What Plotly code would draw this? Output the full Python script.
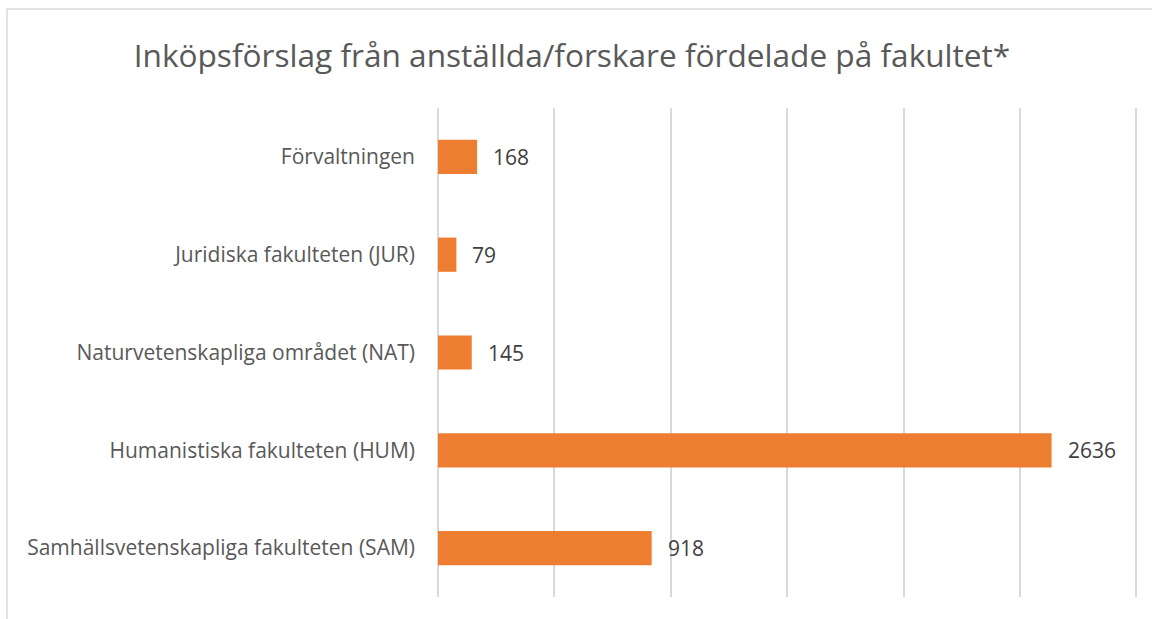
import plotly.graph_objects as go

# data, top to bottom as in the chart
categories = [
    "Förvaltningen",
    "Juridiska fakulteten (JUR)",
    "Naturvetenskapliga området (NAT)",
    "Humanistiska fakulteten (HUM)",
    "Samhällsvetenskapliga fakulteten (SAM)",
]
values = [168, 79, 145, 2636, 918]
x_max = 3020  # a touch past the last gridline (3000) so it gets drawn

W, H = 1152, 619
ml, mr, mt, mb = 438, 11, 108, 22
pw, ph = W - ml - mr, H - mt - mb

fig = go.Figure()
fig.add_trace(go.Bar(
    y=categories, x=values, orientation="h",
    marker=dict(color="#ED7D31", line=dict(width=0)),
    hoverinfo="x+y",
))

# value labels to the right of each bar
for c, v in zip(categories, values):
    fig.add_annotation(x=v, y=c, text=str(v), showarrow=False,
                       xanchor="left", xshift=14,
                       font=dict(color="#404040", size=21))

# thin frame (only top and left edge visible in the original)
def px_x(p):
    return (p - ml) / pw

def px_y(p):
    return (H - mb - p) / ph

fig.add_shape(type="line", xref="paper", yref="paper",
              x0=px_x(7), x1=px_x(7), y0=px_y(640), y1=px_y(9),
              line=dict(color="#D9D9D9", width=1.5))
fig.add_shape(type="line", xref="paper", yref="paper",
              x0=px_x(7), x1=px_x(1160), y0=px_y(9), y1=px_y(9),
              line=dict(color="#D9D9D9", width=1.5))

fig.update_layout(
    width=W, height=H,
    margin=dict(l=ml, r=mr, t=mt, b=mb),
    paper_bgcolor="white", plot_bgcolor="white",
    font=dict(family="Open Sans", color="#595959"),
    title=dict(text="Inköpsförslag från anställda/forskare fördelade på fakultet*",
               x=572 / W, xanchor="center",
               y=1 - 56 / H, yanchor="middle",
               font=dict(size=31.6, color="#595959")),
    bargap=0.65,
    showlegend=False,
)
fig.update_xaxes(range=[0, x_max], dtick=500, showticklabels=False,
                 showgrid=True, gridcolor="#D9D9D9", gridwidth=1.5,
                 zeroline=True, zerolinecolor="#D9D9D9", zerolinewidth=1.5,
                 showline=False)
fig.update_yaxes(autorange="reversed", showgrid=False, showline=False,
                 ticklabelstandoff=22, tickfont=dict(size=21, color="#595959"))

# drop the browser's default body margin so the figure fills the window
fig.write_html("out.html", config={"displayModeBar": False},
               post_script="document.body.style.margin='0';")
